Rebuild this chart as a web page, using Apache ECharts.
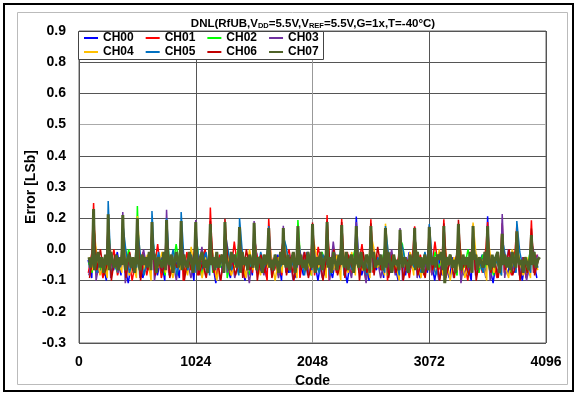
<!DOCTYPE html>
<html>
<head>
<meta charset="utf-8">
<script src="https://cdn.jsdelivr.net/npm/echarts@6/dist/echarts.min.js"></script>
<style>
  html, body { margin: 0; padding: 0; background: #fff; }
  #chart { width: 575px; height: 393px; }
</style>
</head>
<body>
<div id="chart"></div>
<script>
  const channelNames = ['CH00', 'CH01', 'CH02', 'CH03', 'CH04', 'CH05', 'CH06', 'CH07']
  const channelColors = ['#0000FF', '#FF0000', '#00FF00', '#7030A0', '#FFC000', '#0070C0', '#C00000', '#4F6228']

  // y axis: Excel style labels, one per gridline from bottom to top
  const yTickLabels = ['-0.3', '-0.2', '-0.1', '0.0', '0.2', '0.3', '0.4', '0.5', '0.6', '0.8', '0.9']
  const xTickLabels = ['0', '1024', '2048', '3072', '4096']

  // codes where the big DNL spikes sit
  const spikeCodes = [128, 256, 384, 512, 640, 768, 896, 1024, 1152, 1280, 1408, 1536, 1664, 1792, 1920, 2048,
    2176, 2304, 2432, 2560, 2688, 2816, 2944, 3072, 3200, 3328, 3456, 3584, 3712, 3840, 3968]

  // noise samples: first code and code step per channel
  const noiseStart = [80, 82, 84, 86, 88, 90, 92, 88]
  const noiseStep = [32, 32, 32, 32, 32, 32, 32, 16]

  const ch00 = [0.02,-0.05,0.04,-0.03,0.01,-0.06,0.03,-0.02,0.05,-0.04,0.00,-0.07,0.02,-0.03,0.04,-0.05,0.01,-0.02,0.06,-0.04,
    0.03,-0.06,0.00,-0.03,0.02,-0.05,0.04,-0.01,0.03,-0.06,0.01,-0.04,0.05,-0.02,0.02,-0.07,0.03,-0.03,0.00,-0.05,
    0.04,-0.02,0.01,-0.06,0.03,-0.04,0.06,-0.03,0.02,-0.05,0.00,-0.02,0.04,-0.06,0.01,-0.03,0.03,-0.05,0.02,-0.04,
    0.05,-0.01,0.02,-0.06,0.03,-0.04,0.00,-0.05,0.04,-0.02,0.01,-0.07,0.03,-0.03,0.05,-0.04,0.02,-0.06,0.01,-0.02,
    0.04,-0.05,0.02,-0.03,0.00,-0.06,0.03,-0.04,0.05,-0.02,0.01,-0.05,0.03,-0.03,0.02,-0.06,0.04,-0.04,0.00,-0.05,
    0.03,-0.02,0.06,-0.04,0.01,-0.06,0.02,-0.03,0.04,-0.05,0.00,-0.07,0.03,-0.02,0.02,-0.04,0.05,-0.03,0.01,-0.06,
    0.03,-0.04,0.02,-0.05]
  const ch01 = [-0.03,0.05,-0.01,0.03,-0.05,0.02,-0.02,0.06,-0.04,0.01,-0.03,0.04,-0.06,0.02,0.00,0.05,-0.04,0.03,-0.02,0.08,
    -0.05,0.01,-0.03,0.04,-0.01,0.02,-0.06,0.05,-0.02,0.03,-0.04,0.01,0.06,-0.03,0.02,-0.05,0.04,-0.01,0.03,-0.04,
    0.09,-0.02,0.01,-0.05,0.03,-0.03,0.05,-0.01,0.02,-0.06,0.04,-0.02,0.03,-0.04,0.01,0.06,-0.03,0.02,-0.05,0.04,
    -0.02,0.03,-0.04,0.07,-0.01,0.02,-0.06,0.04,-0.03,0.01,-0.02,0.05,-0.04,0.03,-0.01,0.08,-0.05,0.02,-0.03,0.04,
    -0.02,0.01,-0.06,0.05,-0.03,0.03,-0.01,0.02,-0.05,0.06,-0.02,0.04,-0.04,0.01,-0.03,0.09,-0.02,0.03,-0.05,0.02,
    -0.01,0.04,-0.04,0.02,-0.06,0.05,-0.02,0.03,-0.03,0.07,-0.01,0.02,-0.05,0.04,-0.03,0.01,-0.04,0.06,-0.02,0.03,
    -0.05,0.02,-0.03,0.04]
  const ch02 = [0.01,-0.03,0.04,-0.02,0.02,-0.04,0.05,0.00,-0.03,0.03,-0.01,0.06,-0.02,0.01,-0.04,0.03,0.00,-0.03,0.05,-0.01,
    0.02,-0.04,0.04,-0.02,0.08,-0.01,0.01,-0.03,0.03,-0.02,0.05,-0.04,0.02,0.00,-0.03,0.04,-0.01,0.02,-0.05,0.03,
    0.00,0.06,-0.02,0.01,-0.04,0.04,-0.01,0.02,-0.03,0.05,-0.02,0.03,-0.04,0.01,0.07,-0.02,0.02,-0.03,0.04,-0.01,
    0.03,-0.04,0.02,-0.02,0.05,0.00,-0.03,0.03,-0.01,0.04,-0.04,0.02,0.00,0.06,-0.02,0.01,-0.03,0.04,-0.02,0.03,
    -0.01,0.05,-0.04,0.02,0.00,-0.03,0.08,-0.01,0.02,-0.02,0.04,-0.04,0.01,0.03,-0.02,0.05,-0.01,0.02,-0.03,0.04,
    0.00,-0.04,0.03,-0.01,0.06,-0.02,0.02,-0.03,0.04,-0.01,0.01,-0.04,0.05,-0.02,0.03,0.00,-0.03,0.04,-0.01,0.02,
    -0.03,0.05,-0.02,0.01]
  const ch03 = [-0.04,0.03,-0.06,0.02,-0.02,0.05,-0.05,0.01,-0.03,0.04,-0.07,0.02,-0.01,0.03,-0.05,0.06,-0.02,0.01,-0.06,0.03,
    -0.03,0.04,-0.04,0.02,-0.06,0.05,-0.01,0.02,-0.05,0.03,-0.03,0.07,-0.04,0.01,-0.02,0.04,-0.06,0.02,-0.03,0.05,
    -0.05,0.01,-0.02,0.03,-0.07,0.04,-0.03,0.02,-0.04,0.06,-0.01,0.03,-0.05,0.02,-0.03,0.04,-0.06,0.01,-0.02,0.05,
    -0.04,0.03,-0.03,0.02,-0.05,0.04,-0.06,0.09,-0.02,0.03,-0.04,0.01,-0.05,0.05,-0.03,0.02,-0.07,0.04,-0.01,0.03,
    -0.05,0.02,-0.03,0.06,-0.04,0.01,-0.06,0.03,-0.02,0.04,-0.05,0.02,-0.03,0.05,-0.04,0.01,-0.06,0.03,-0.02,0.04,
    -0.05,0.02,-0.07,0.03,-0.03,0.05,-0.04,0.01,-0.02,0.04,-0.06,0.02,-0.03,0.03,-0.05,0.06,-0.02,0.01,-0.04,0.03,
    -0.06,0.02,-0.03,0.04]
  const ch04 = [0.03,-0.02,0.05,-0.04,0.01,-0.05,0.04,-0.01,0.02,-0.03,0.06,-0.04,0.00,-0.05,0.03,-0.02,0.04,-0.06,0.02,-0.01,
    0.05,-0.03,0.01,-0.05,0.04,-0.02,0.02,-0.04,0.07,-0.03,0.01,-0.05,0.03,-0.01,0.04,-0.06,0.02,-0.02,0.05,-0.04,
    0.00,-0.03,0.03,-0.05,0.06,-0.02,0.01,-0.04,0.04,-0.01,0.02,-0.06,0.03,-0.03,0.05,-0.02,0.01,-0.05,0.04,-0.03,
    0.02,-0.04,0.06,-0.01,0.03,-0.05,0.01,-0.02,0.04,-0.06,0.02,-0.03,0.05,-0.04,0.00,-0.02,0.03,-0.05,0.07,-0.01,
    0.02,-0.04,0.04,-0.03,0.01,-0.06,0.03,-0.02,0.05,-0.04,0.02,-0.05,0.04,-0.01,0.01,-0.03,0.06,-0.04,0.02,-0.06,
    0.03,-0.02,0.04,-0.05,0.01,-0.03,0.05,-0.01,0.02,-0.06,0.04,-0.03,0.03,-0.04,0.00,-0.05,0.06,-0.02,0.02,-0.04,
    0.03,-0.05,0.04,-0.02]
  const ch05 = [-0.01,0.04,-0.03,0.02,0.00,0.05,-0.04,0.03,-0.02,0.01,0.06,-0.03,0.02,-0.01,0.04,-0.04,0.03,0.00,-0.02,0.05,
    -0.03,0.02,-0.01,0.06,-0.04,0.03,0.01,-0.02,0.04,-0.03,0.02,0.00,0.05,-0.04,0.01,-0.01,0.03,-0.03,0.06,-0.02,
    0.02,-0.04,0.04,0.00,-0.02,0.03,-0.03,0.05,-0.01,0.02,-0.04,0.04,-0.02,0.01,0.07,-0.03,0.02,-0.01,0.03,-0.04,
    0.05,-0.02,0.01,-0.03,0.04,0.00,-0.04,0.03,-0.01,0.06,-0.03,0.02,-0.02,0.04,-0.01,0.01,-0.04,0.05,-0.02,0.03,
    0.00,-0.03,0.04,-0.01,0.02,-0.04,0.06,-0.02,0.03,-0.01,0.01,-0.03,0.05,-0.02,0.02,-0.04,0.04,0.00,-0.03,0.03,
    -0.01,0.05,-0.02,0.02,-0.04,0.04,-0.01,0.01,-0.03,0.06,-0.02,0.03,0.00,-0.04,0.04,-0.01,0.02,-0.03,0.05,-0.02,
    0.01,-0.03,0.04,-0.01]
  const ch06 = [-0.05,0.03,-0.02,0.06,-0.04,0.01,-0.06,0.04,-0.01,0.02,-0.05,0.05,-0.03,0.02,-0.06,0.03,-0.02,0.07,-0.04,0.01,
    -0.03,0.05,-0.05,0.02,-0.01,0.04,-0.06,0.03,-0.02,0.08,-0.04,0.01,-0.05,0.04,-0.03,0.02,-0.06,0.05,-0.01,0.03,
    -0.04,0.02,-0.05,0.06,-0.02,0.01,-0.06,0.04,-0.03,0.03,-0.05,0.02,-0.01,0.09,-0.04,0.03,-0.06,0.02,-0.02,0.05,
    -0.05,0.01,-0.03,0.04,-0.06,0.03,-0.02,0.06,-0.04,0.02,-0.05,0.04,-0.01,0.03,-0.06,0.05,-0.03,0.01,-0.04,0.07,
    -0.02,0.02,-0.05,0.04,-0.03,0.03,-0.06,0.02,-0.01,0.05,-0.04,0.01,-0.05,0.06,-0.02,0.03,-0.06,0.04,-0.03,0.02,
    -0.05,0.08,-0.02,0.01,-0.04,0.04,-0.06,0.03,-0.01,0.05,-0.03,0.02,-0.05,0.04,-0.02,0.06,-0.04,0.01,-0.06,0.03,
    -0.03,0.05,-0.04,0.02]
  const ch07 = [0.03,-0.01,0.04,-0.02,0.02,0.05,-0.01,0.03,-0.03,0.04,0.00,-0.02,0.05,0.01,-0.01,0.04,-0.02,0.03,0.00,0.05,
    -0.02,0.02,0.04,-0.01,0.03,-0.03,0.05,0.01,-0.02,0.04,0.00,0.03,-0.01,0.05,-0.02,0.02,0.04,-0.03,0.03,0.01,
    -0.01,0.05,-0.02,0.03,0.00,0.04,-0.03,0.02,0.05,-0.01,0.03,-0.02,0.04,0.00,-0.01,0.05,0.02,-0.03,0.04,0.01,
    -0.02,0.03,0.05,-0.01,0.02,-0.03,0.04,0.00,0.03,-0.02,0.05,-0.01,0.02,0.04,-0.03,0.03,0.00,-0.02,0.05,0.01,
    0.04,-0.01,0.02,-0.03,0.05,0.00,0.03,-0.02,0.04,0.01,-0.01,0.05,-0.02,0.03,0.02,-0.03,0.04,0.00,0.05,-0.01,
    0.02,-0.02,0.04,0.01,-0.03,0.05,0.00,0.03,-0.01,0.04,-0.02,0.02,0.05,-0.03,0.03,0.00,0.04,-0.01,0.02,-0.02,
    0.05,0.01,-0.01,0.04,-0.03,0.03,0.00,0.05,-0.02,0.02,0.04,-0.01,0.03,-0.03,0.05,0.01,-0.02,0.04,0.00,0.03,
    -0.01,0.05,-0.02,0.02,0.04,-0.03,0.03,0.01,-0.01,0.05,0.00,-0.02,0.04,0.02,-0.03,0.03,0.05,-0.01,0.02,0.00,
    0.04,-0.02,0.03,-0.01,0.05,0.01,-0.03,0.04,0.00,0.02,-0.02,0.05,-0.01,0.03,0.01,-0.03,0.04,0.00,0.02,-0.02,
    0.05,-0.01,0.03,-0.03,0.04,0.01,-0.02,0.05,0.00,0.03,-0.01,0.04,0.02,0.05,-0.02,-0.07,0.03,0.00,0.04,-0.01,
    0.02,-0.03,0.05,0.01,-0.02,0.04,0.00,0.03,-0.01,0.05,-0.03,0.02,0.04,-0.02,0.03,0.01,-0.01,0.05,0.00,0.02,
    -0.02,0.04,-0.01,0.03,0.05,-0.03,0.02,0.00,0.04,-0.01,0.03,-0.02,0.05,0.01,-0.01,0.04,0.00,0.02,-0.03,0.03,
    0.01,-0.02,0.04,0.00,0.05,-0.01,0.02,0.03]

  // spike height per channel at each spike code
  const spike00 = [0.17,0.16,0.15,0.14,0.13,0.14,0.13,0.12,0.13,0.12,0.11,0.12,0.11,0.10,0.12,0.11,0.13,0.12,0.186,0.12,0.11,0.10,0.145,0.11,0.12,0.11,0.12,0.187,0.10,0.11,0.09]
  const spike01 = [0.238,0.17,0.16,0.15,0.14,0.15,0.14,0.13,0.221,0.14,0.12,0.13,0.178,0.12,0.12,0.13,0.192,0.177,0.12,0.176,0.11,0.11,0.149,0.152,0.176,0.12,0.12,0.165,0.16,0.155,0.172]
  const spike02 = [0.16,0.15,0.15,0.227,0.13,0.14,0.13,0.12,0.12,0.13,0.11,0.12,0.11,0.11,0.173,0.12,0.12,0.11,0.11,0.12,0.10,0.10,0.11,0.11,0.10,0.12,0.11,0.11,0.09,0.10,0.09]
  const spike03 = [0.17,0.16,0.204,0.15,0.14,0.212,0.14,0.173,0.13,0.13,0.12,0.169,0.12,0.151,0.12,0.13,0.13,0.12,0.165,0.12,0.11,0.142,0.11,0.12,0.12,0.13,0.155,0.12,0.196,0.11,0.10]
  const spike04 = [0.16,0.15,0.14,0.188,0.13,0.13,0.12,0.12,0.12,0.12,0.11,0.12,0.11,0.11,0.12,0.12,0.12,0.11,0.11,0.12,0.159,0.10,0.11,0.11,0.12,0.12,0.163,0.11,0.10,0.10,0.09]
  const spike05 = [0.17,0.246,0.16,0.15,0.208,0.18,0.204,0.13,0.13,0.13,0.181,0.12,0.15,0.11,0.12,0.12,0.13,0.12,0.11,0.12,0.15,0.10,0.11,0.158,0.12,0.12,0.12,0.11,0.10,0.169,0.09]
  const spike06 = [0.18,0.16,0.16,0.15,0.14,0.14,0.14,0.13,0.17,0.178,0.12,0.13,0.12,0.12,0.12,0.163,0.17,0.165,0.12,0.16,0.11,0.11,0.12,0.12,0.16,0.174,0.12,0.12,0.10,0.11,0.14]
  const spike07 = [0.215,0.195,0.192,0.181,0.165,0.173,0.169,0.165,0.158,0.165,0.146,0.162,0.142,0.142,0.15,0.158,0.165,0.154,0.15,0.15,0.142,0.135,0.142,0.146,0.15,0.158,0.15,0.15,0.12,0.13,0.115]

  const noise = [ch00, ch01, ch02, ch03, ch04, ch05, ch06, ch07]
  const spikes = [spike00, spike01, spike02, spike03, spike04, spike05, spike06, spike07]

  const FONT = 'Arial, "Liberation Sans", sans-serif'
  const Y_MIN = -0.3
  const Y_STEP = 0.12

  function channelData (c) {
    const pts = []
    noise[c].forEach(function (v, i) { pts.push([noiseStart[c] + i * noiseStep[c], v]) })
    spikes[c].forEach(function (v, k) { pts.push([spikeCodes[k], v]) })
    pts.sort(function (a, b) { return a[0] - b[0] })
    return pts
  }

  const chartObj = echarts.init(document.getElementById('chart'), null, { renderer: 'canvas' })

  const yGridColors = ['#555', '#555', '#555', '#555', '#555', '#555', '#555', '#aaa', '#555', '#555', '#555']
  const xGridColors = ['#555', '#555', '#999', '#555', '#555']

  const legendText = { fontFamily: FONT, fontSize: 12, fontWeight: 'bold', color: '#000' }

  const options = {
    animation: false,
    backgroundColor: '#fff',
    color: channelColors,
    grid: {
      left: 79,
      right: 29,
      top: 31,
      bottom: 50,
      show: true,
      borderColor: '#666',
      borderWidth: 1
    },
    legend: [
      {
        data: channelNames.slice(0, 4),
        left: 84,
        top: 32,
        padding: 0,
        itemGap: 12,
        itemWidth: 14,
        itemHeight: 2,
        icon: 'rect',
        z: 10,
        textStyle: legendText
      },
      {
        data: channelNames.slice(4),
        left: 84,
        top: 46,
        padding: 0,
        itemGap: 12,
        itemWidth: 14,
        itemHeight: 2,
        icon: 'rect',
        z: 10,
        textStyle: legendText
      }
    ],
    xAxis: {
      type: 'value',
      min: 0,
      max: 4096,
      interval: 1024,
      name: 'Code',
      nameLocation: 'middle',
      nameGap: 25,
      nameTextStyle: { fontFamily: FONT, fontSize: 14, fontWeight: 'bold', color: '#000' },
      axisLine: { show: false },
      axisTick: { show: false },
      axisLabel: {
        margin: 12,
        fontFamily: FONT,
        fontSize: 14,
        fontWeight: 'bold',
        color: '#000',
        formatter: function (v) { return xTickLabels[Math.round(v / 1024)] }
      },
      splitLine: { show: true, lineStyle: { color: xGridColors, width: 1 } }
    },
    yAxis: {
      type: 'value',
      min: Y_MIN,
      max: 0.9,
      interval: Y_STEP,
      name: 'Error [LSb]',
      nameLocation: 'middle',
      nameGap: 41,
      nameMoveOverlap: false,
      nameTextStyle: { fontFamily: FONT, fontSize: 14, fontWeight: 'bold', color: '#000' },
      axisLine: { show: false },
      axisTick: { show: false },
      axisLabel: {
        margin: 13,
        fontFamily: FONT,
        fontSize: 14,
        fontWeight: 'bold',
        color: '#000',
        formatter: function (v) { return yTickLabels[Math.round((v - Y_MIN) / Y_STEP)] }
      },
      splitLine: { show: true, lineStyle: { color: yGridColors, width: 1 } }
    },
    graphic: [
      {
        type: 'rect',
        z: -10,
        silent: true,
        shape: { x: 4, y: 4, width: 569, height: 387 },
        style: { fill: 'none', stroke: '#000', lineWidth: 2 }
      },
      {
        type: 'rect',
        z: -10,
        silent: true,
        shape: { x: 17.5, y: 12.5, width: 550, height: 372 },
        style: { fill: 'none', stroke: '#bbb', lineWidth: 1 }
      },
      {
        type: 'rect',
        z: 5,
        silent: true,
        shape: { x: 78.5, y: 31.5, width: 245, height: 28 },
        style: { fill: '#fff', stroke: '#444', lineWidth: 1 }
      },
      {
        type: 'text',
        z: 5,
        x: 313,
        y: 23,
        style: {
          text: '{a|DNL(RfUB,V}{s|DD}{a|=5.5V,V}{s|REF}{a|=5.5V,G=1x,T=-40°C)}',
          align: 'center',
          verticalAlign: 'middle',
          rich: {
            a: { fontFamily: FONT, fontSize: 11.5, fontWeight: 'bold', fill: '#000', lineHeight: 14, verticalAlign: 'bottom' },
            s: { fontFamily: FONT, fontSize: 7.5, fontWeight: 'bold', fill: '#000', lineHeight: 7, verticalAlign: 'bottom' }
          }
        }
      }
    ],
    series: channelNames.map(function (name, c) {
      return {
        name: name,
        type: 'line',
        symbol: 'none',
        showSymbol: false,
        sampling: null,
        z: 2 + c * 0.01,
        lineStyle: { width: c === 7 ? 3 : 1.5, color: channelColors[c], join: 'bevel' },
        itemStyle: { color: channelColors[c] },
        data: channelData(c)
      }
    })
  }

  chartObj.setOption(options)
</script>
</body>
</html>
